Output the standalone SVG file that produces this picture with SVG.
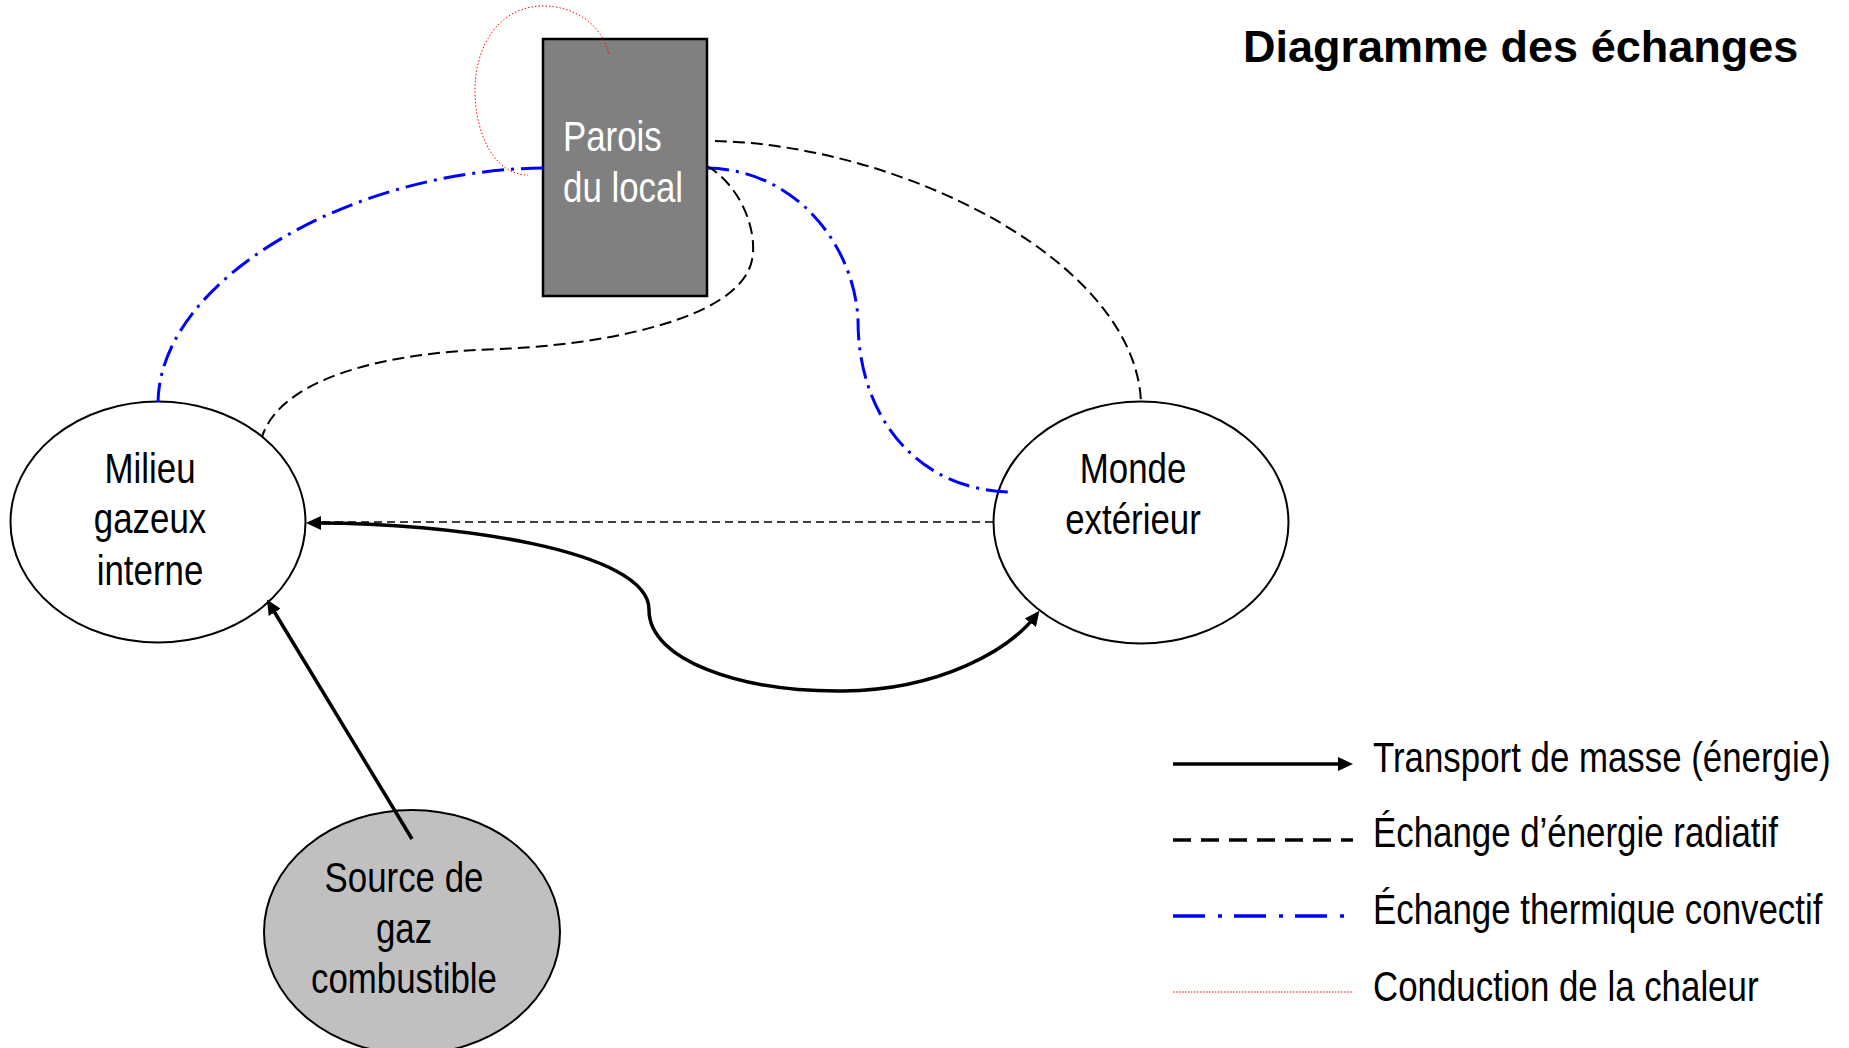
<svg xmlns="http://www.w3.org/2000/svg" width="1849" height="1048" viewBox="0 0 1849 1048">
<defs>
<style>
.lbl{font-family:"Liberation Sans",Arial,sans-serif;font-size:42px;fill:#000}
.node{stroke:#000;stroke-width:2}
.mass{fill:none;stroke:#000;stroke-width:3.5}
.rad{fill:none;stroke:#000;stroke-width:2;stroke-dasharray:12 6}
.conv{fill:none;stroke:#0000ff;stroke-width:3;stroke-dasharray:22 7 3 7}
.cond{fill:none;stroke:#ff0000;stroke-width:1;stroke-dasharray:1.5 2}
</style>
<marker id="ah" viewBox="0 0 15 14" refX="11" refY="7" markerWidth="15" markerHeight="14" markerUnits="userSpaceOnUse" orient="auto-start-reverse">
<path d="M0,0 L15,7 L0,14 z" fill="#000"/>
</marker>
</defs>
<rect width="1849" height="1048" fill="#fff"/>

<g id="parois">
<rect x="543" y="39" width="164" height="257" fill="#808080" stroke="#000" stroke-width="2.5"/>
<text class="lbl" transform="translate(563 151) scale(0.83 1)" style="fill:#fff">Parois</text>
<text class="lbl" transform="translate(563 202) scale(0.83 1)" style="fill:#fff">du local</text>
</g>

<g id="milieu">
<ellipse class="node" cx="158" cy="522" rx="147.5" ry="120.5" fill="#fff"/>
<text class="lbl" transform="translate(150 483) scale(0.83 1)" text-anchor="middle">Milieu</text>
<text class="lbl" transform="translate(150 533) scale(0.83 1)" text-anchor="middle">gazeux</text>
<text class="lbl" transform="translate(150 585) scale(0.83 1)" text-anchor="middle">interne</text>
</g>

<g id="monde">
<ellipse class="node" cx="1141" cy="522.5" rx="147.5" ry="121" fill="#fff"/>
<text class="lbl" transform="translate(1133 483) scale(0.83 1)" text-anchor="middle">Monde</text>
<text class="lbl" transform="translate(1133 534) scale(0.83 1)" text-anchor="middle">extérieur</text>
</g>

<g id="source">
<ellipse class="node" cx="412" cy="932" rx="148" ry="122" fill="#c0c0c0"/>
<text class="lbl" transform="translate(404 892) scale(0.83 1)" text-anchor="middle">Source de</text>
<text class="lbl" transform="translate(404 943) scale(0.83 1)" text-anchor="middle">gaz</text>
<text class="lbl" transform="translate(404 993) scale(0.83 1)" text-anchor="middle">combustible</text>
</g>

<g id="connectors">
<path class="cond" d="M609,54 C600,20 570,6 543,6 C500,6 475,45 475,90 C475,135 495,175 528,175"/>
<path class="conv" d="M543,168 C350,170 160,280 158,402"/>
<path class="conv" d="M707,168 C800,170 855,250 858,320 C858,420 920,490 1010,492"/>
<path class="rad" d="M715,141 C900,145 1135,260 1141,402"/>
<path class="rad" d="M707,166 C740,185 758,230 752,260 C740,320 600,345 500,349 C380,352 280,380 262,437"/>
<path fill="none" stroke="#000" stroke-width="1.5" stroke-dasharray="8 5" d="M993,522 L307,522"/>
<path class="mass" marker-start="url(#ah)" marker-end="url(#ah)" d="M310,523 C450,522 650,550 649,610 C649,660 740,692 843,691 C940,690 1010,650 1037,614"/>
<path class="mass" marker-end="url(#ah)" d="M412,839 L269,603"/>
</g>

<g id="title">
<text x="1243" y="62" font-family="'Liberation Sans',Arial,sans-serif" font-weight="bold" font-size="45">Diagramme des échanges</text>
</g>

<g id="legend">
<line class="mass" x1="1173" y1="764" x2="1349" y2="764" marker-end="url(#ah)"/>
<line x1="1173" y1="840" x2="1353" y2="840" stroke="#000" stroke-width="3.5" stroke-dasharray="18 10"/>
<line x1="1173" y1="916" x2="1353" y2="916" stroke="#0000ff" stroke-width="3.5" stroke-dasharray="32 13 4 12"/>
<line x1="1173" y1="992" x2="1353" y2="992" stroke="#ff0000" stroke-width="1" stroke-dasharray="1.5 1.5"/>
<text class="lbl" transform="translate(1373 772) scale(0.83 1)">Transport de masse (énergie)</text>
<text class="lbl" transform="translate(1373 847) scale(0.83 1)">Échange d’énergie radiatif</text>
<text class="lbl" transform="translate(1373 924) scale(0.83 1)">Échange thermique convectif</text>
<text class="lbl" transform="translate(1373 1001) scale(0.83 1)">Conduction de la chaleur</text>
</g>
</svg>
